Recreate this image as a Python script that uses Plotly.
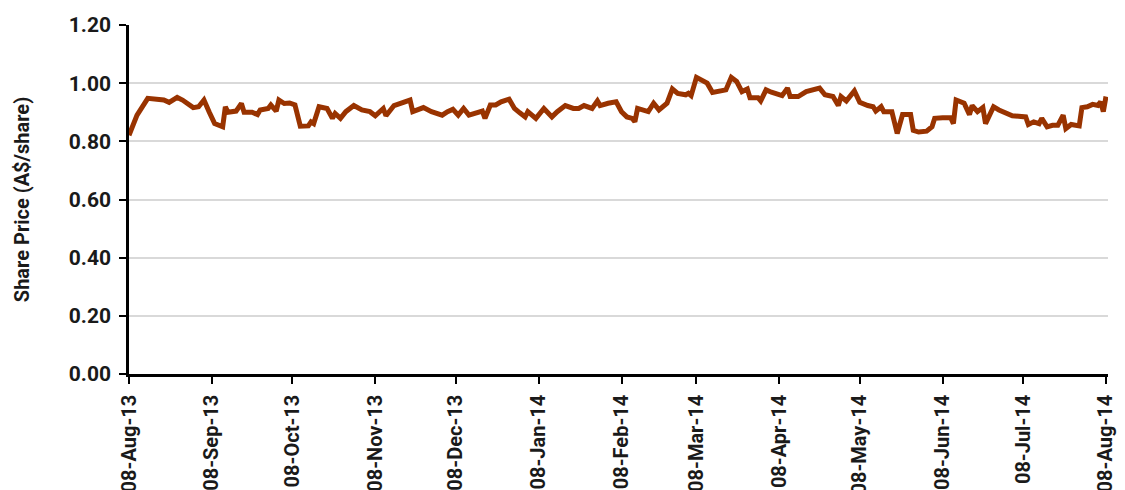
import plotly.graph_objects as go

dates = [
    "2013-08-08", "2013-08-11", "2013-08-15", "2013-08-21", "2013-08-23", "2013-08-26", "2013-08-28",
    "2013-09-01", "2013-09-03", "2013-09-05", "2013-09-07", "2013-09-09", "2013-09-12", "2013-09-13",
    "2013-09-14", "2013-09-17", "2013-09-19", "2013-09-20", "2013-09-23", "2013-09-25", "2013-09-26",
    "2013-09-29", "2013-09-30", "2013-10-02", "2013-10-03", "2013-10-05", "2013-10-07",
    "2013-10-09", "2013-10-11", "2013-10-14", "2013-10-15", "2013-10-16", "2013-10-18", "2013-10-21",
    "2013-10-23", "2013-10-24", "2013-10-26", "2013-10-28", "2013-10-31", "2013-11-03", "2013-11-06",
    "2013-11-08", "2013-11-11", "2013-11-12", "2013-11-15", "2013-11-18", "2013-11-21", "2013-11-22",
    "2013-11-26", "2013-11-29", "2013-12-03", "2013-12-05",
    "2013-12-07", "2013-12-09", "2013-12-11", "2013-12-13", "2013-12-16", "2013-12-18", "2013-12-19",
    "2013-12-21", "2013-12-23", "2013-12-25", "2013-12-28", "2013-12-30", "2014-01-01", "2014-01-03",
    "2014-01-04", "2014-01-07", "2014-01-10", "2014-01-11", "2014-01-13", "2014-01-15", "2014-01-18",
    "2014-01-21", "2014-01-23", "2014-01-25", "2014-01-28", "2014-01-30", "2014-01-31", "2014-02-03",
    "2014-02-06",
    "2014-02-08", "2014-02-10", "2014-02-12", "2014-02-13", "2014-02-14", "2014-02-18", "2014-02-20",
    "2014-02-22", "2014-02-25", "2014-02-27", "2014-03-01", "2014-03-04", "2014-03-05", "2014-03-06",
    "2014-03-08", "2014-03-10", "2014-03-12", "2014-03-14", "2014-03-17", "2014-03-19", "2014-03-21",
    "2014-03-23", "2014-03-25", "2014-03-27", "2014-03-28", "2014-03-31", "2014-04-01", "2014-04-03",
    "2014-04-05", "2014-04-08",
    "2014-04-09", "2014-04-11", "2014-04-12", "2014-04-15", "2014-04-18", "2014-04-23", "2014-04-25",
    "2014-04-28", "2014-04-30", "2014-05-01", "2014-05-03", "2014-05-06", "2014-05-08", "2014-05-11",
    "2014-05-13", "2014-05-14", "2014-05-16", "2014-05-17", "2014-05-20", "2014-05-22", "2014-05-24",
    "2014-05-27", "2014-05-28", "2014-05-30", "2014-06-02", "2014-06-04", "2014-06-05", "2014-06-08",
    "2014-06-11", "2014-06-12", "2014-06-13", "2014-06-16", "2014-06-18", "2014-06-19", "2014-06-21",
    "2014-06-23", "2014-06-24", "2014-06-27", "2014-06-29", "2014-07-04", "2014-07-09", "2014-07-10",
    "2014-07-12", "2014-07-14", "2014-07-15", "2014-07-17", "2014-07-19", "2014-07-21", "2014-07-23",
    "2014-07-24", "2014-07-26", "2014-07-29", "2014-07-30", "2014-08-01", "2014-08-03", "2014-08-05",
    "2014-08-06", "2014-08-07", "2014-08-08",
]

share_price = [
    0.821, 0.890, 0.948, 0.942, 0.934, 0.951, 0.942,
    0.916, 0.919, 0.942, 0.900, 0.861, 0.850, 0.919,
    0.900, 0.904, 0.930, 0.900, 0.900, 0.892, 0.908,
    0.913, 0.925, 0.904, 0.942, 0.930, 0.932,
    0.925, 0.852, 0.853, 0.867, 0.861, 0.919, 0.913,
    0.879, 0.896, 0.879, 0.902, 0.923, 0.908, 0.902,
    0.888, 0.913, 0.888, 0.923, 0.934, 0.942, 0.902,
    0.916, 0.902, 0.890, 0.902,
    0.910, 0.890, 0.913, 0.890, 0.898, 0.904, 0.879,
    0.925, 0.925, 0.936, 0.945, 0.913, 0.898, 0.884,
    0.902, 0.879, 0.913, 0.902, 0.884, 0.902, 0.923,
    0.913, 0.913, 0.923, 0.913, 0.939, 0.923, 0.931,
    0.936,
    0.902, 0.884, 0.879, 0.867, 0.913, 0.902, 0.931,
    0.908, 0.931, 0.980, 0.965, 0.960, 0.965, 0.957,
    1.020, 1.008, 1.000, 0.968, 0.973, 0.977, 1.020,
    1.006, 0.971, 0.980, 0.950, 0.950, 0.939, 0.977,
    0.969, 0.957,
    0.957, 0.983, 0.954, 0.954, 0.971, 0.983, 0.960,
    0.954, 0.923, 0.954, 0.939, 0.973, 0.934, 0.923,
    0.919, 0.904, 0.919, 0.902, 0.902, 0.827, 0.892,
    0.892, 0.838, 0.832, 0.835, 0.850, 0.879, 0.881,
    0.881, 0.861, 0.942, 0.931, 0.892, 0.923, 0.902,
    0.916, 0.861, 0.919, 0.908, 0.888, 0.884, 0.858,
    0.867, 0.861, 0.879, 0.850, 0.855, 0.855, 0.890,
    0.844, 0.858, 0.853, 0.916, 0.919, 0.927, 0.923,
    0.936, 0.902, 0.954,
]

tick_dates = [
    "2013-08-08", "2013-09-08", "2013-10-08", "2013-11-08", "2013-12-08", "2014-01-08",
    "2014-02-08", "2014-03-08", "2014-04-08", "2014-05-08", "2014-06-08", "2014-07-08", "2014-08-08",
]
tick_labels = [
    "08-Aug-13", "08-Sep-13", "08-Oct-13", "08-Nov-13", "08-Dec-13", "08-Jan-14",
    "08-Feb-14", "08-Mar-14", "08-Apr-14", "08-May-14", "08-Jun-14", "08-Jul-14", "08-Aug-14",
]
y_ticks = [0.0, 0.2, 0.4, 0.6, 0.8, 1.0, 1.2]
y_title = "Share Price (A$/share)"

FONT = "Roboto"
TXT = "#1a1a1a"

fig = go.Figure()
fig.add_trace(go.Scatter(
    x=dates, y=share_price, mode="lines",
    line=dict(color="#993300", width=5),
    hoverinfo="x+y",
))

fig.update_layout(
    width=1125, height=490,
    margin=dict(l=121, r=25, t=17, b=124),
    paper_bgcolor="white", plot_bgcolor="white",
    showlegend=False,
    font=dict(family=FONT, size=19, color=TXT, weight="bold"),
)
fig.update_xaxes(
    type="date",
    range=["2013-08-08", "2014-08-08 18:00"],
    tickvals=tick_dates, ticktext=tick_labels,
    tickangle=-90,
    tickfont=dict(family=FONT, size=20, color=TXT, weight="bold"),
    showgrid=False, zeroline=False,
    showline=True, linecolor="black", linewidth=2.5,
    ticks="outside", ticklen=7, tickwidth=2, tickcolor="black",
    ticklabelstandoff=3,
    automargin=False,
)
fig.update_yaxes(
    range=[0, 1.2],
    tickvals=y_ticks, tickformat=".2f",
    tickfont=dict(family=FONT, size=21, color=TXT, weight="bold"),
    showgrid=True, gridcolor="#d9d9d9", gridwidth=2,
    zeroline=False,
    showline=True, linecolor="black", linewidth=2.5,
    ticks="outside", ticklen=7, tickwidth=2, tickcolor="black",
    ticklabelstandoff=4,
    automargin=False,
    title=dict(text=y_title, font=dict(family=FONT, size=20, color=TXT, weight="bold"), standoff=34),
)

fig.write_html("out.html")
